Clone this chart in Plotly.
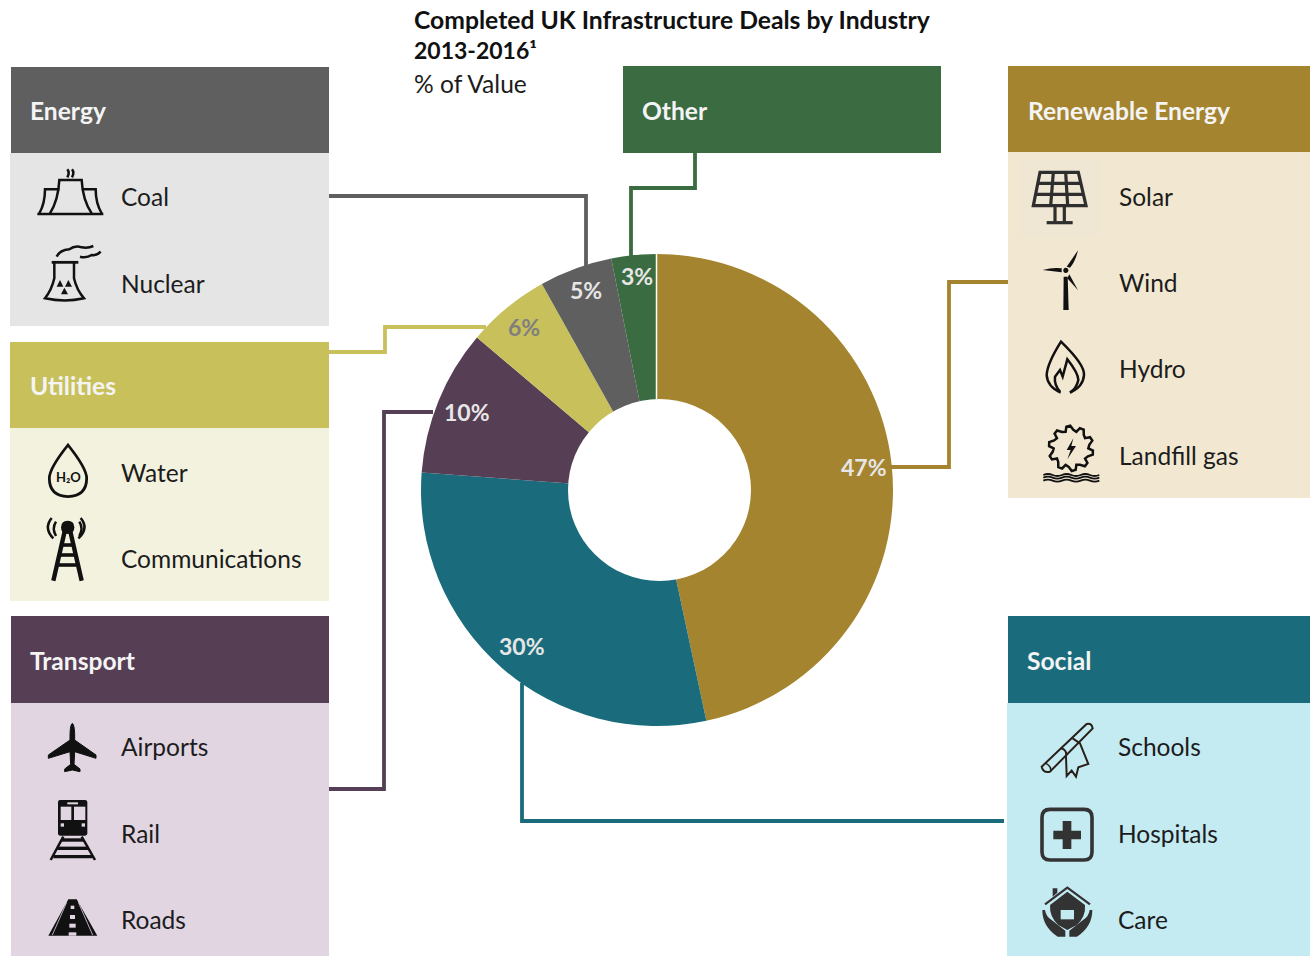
import re, math
import plotly.graph_objects as go

# ---------- data ----------
industries = ["Renewable Energy", "Social", "Transport", "Utilities", "Energy", "Other"]
shares = [46.6, 29.5, 10.0, 5.7, 5.0, 3.1]
share_labels = ["47%", "30%", "10%", "6%", "5%", "3%"]
slice_colors = ["#A4842E", "#1A6C7C", "#563E55", "#C8C05A", "#5F5F5F", "#3B6B41"]
label_colors = ["#E7E6E6", "#E7E6E6", "#E7E6E6", "#7F7F7F", "#E7E6E6", "#E7E6E6"]
label_xy = [(864, 467), (522, 646), (467, 412), (524, 327), (586, 290), (637, 276)]

title_lines = ["Completed UK Infrastructure Deals by Industry", "2013-2016¹"]
subtitle = "% of Value"

# name, header box, body box, header colour, body colour, header text xy
panels = [
    ("Energy", (11, 67, 329, 153), (10, 153, 329, 326), "#5F5F5F", "#E5E5E5", (28, 110)),
    ("Utilities", (10, 342, 329, 428), (10, 428, 329, 601), "#C8C05A", "#F3F2DE", (28, 385)),
    ("Transport", (11, 616, 329, 703), (11, 703, 329, 956), "#563E55", "#E1D5E2", (28, 660)),
    ("Other", (623, 66, 941, 153), None, "#3B6B41", None, (640, 110)),
    ("Renewable Energy", (1008, 66, 1310, 152), (1008, 152, 1310, 498), "#A4842E", "#F2E8D2", (1026, 110)),
    ("Social", (1008, 616, 1310, 703), (1007, 703, 1310, 956), "#1A6C7C", "#C4EBF2", (1025, 660)),
]
items = [
    ("Coal", 119, 196), ("Nuclear", 119, 283), ("Water", 119, 472), ("Communications", 119, 558),
    ("Airports", 119, 746), ("Rail", 119, 833), ("Roads", 119, 919),
    ("Solar", 1117, 196), ("Wind", 1117, 282), ("Hydro", 1117, 368), ("Landfill gas", 1117, 455),
    ("Schools", 1116, 746), ("Hospitals", 1116, 833), ("Care", 1116, 919),
]
connectors = [
    ("#5F5F5F", [(329, 196), (586, 196), (586, 266)]),
    ("#3B6B41", [(695, 153), (695, 188), (631, 188), (631, 257)]),
    ("#A4842E", [(890, 467), (949, 467), (949, 282), (1008, 282)]),
    ("#C8C05A", [(329, 352), (385, 352), (385, 327), (486, 327)]),
    ("#563E55", [(329, 789), (384, 789), (384, 412), (433, 412)]),
    ("#1A6C7C", [(522, 683), (522, 821), (1004, 821)]),
]

FONT = "Lato"
INK = "#1C1C1C"
ICON = "#111111"
shapes = []
annotations = []


def rect(x0, y0, x1, y1, color):
    shapes.append(dict(type="rect", xref="x", yref="y", x0=x0, y0=y0, x1=x1, y1=y1,
                       fillcolor=color, line=dict(width=0), layer="below"))


def tf(path, ox, oy):
    """Scale a path drawn in 3x crop coordinates back to page pixels."""
    out, i = [], 0
    for tok in re.findall(r"[MLQCZ]|-?\d+\.?\d*", path):
        if tok in "MLQCZ":
            out.append(tok)
        else:
            v = float(tok) / 3 + (ox if i % 2 == 0 else oy)
            out.append(f"{v:.2f}")
            i += 1
    return " ".join(out)


def icon(path, ox, oy, fill=None, stroke=None, w=2.5):
    shapes.append(dict(type="path", xref="x", yref="y", path=tf(path, ox, oy),
                       fillcolor=fill if fill else "rgba(0,0,0,0)",
                       line=dict(color=stroke if stroke else "rgba(0,0,0,0)", width=w if stroke else 0),
                       layer="above"))


def text(s, x, y, size, color=INK, anchor="left"):
    annotations.append(dict(text=s, x=x, y=y, xref="x", yref="y", showarrow=False,
                            xanchor=anchor, yanchor="middle", align="left",
                            font=dict(family=FONT, size=size, color=color)))


# ---------- panels ----------
for name, hd, body, hc, bc, (tx, ty) in panels:
    rect(*hd, hc)
    if body:
        rect(*body, bc)
    text(f"<b>{name}</b>", tx, ty, 24.6, "#F4F4F4")
rect(1020, 159, 1099, 237, "#EFE6D4")

for name, x, y in items:
    text(name, x, y, 24.5)

for color, pts in connectors:
    d = "M " + " L ".join(f"{a} {b}" for a, b in pts)
    shapes.append(dict(type="path", xref="x", yref="y", path=d, line=dict(color=color, width=3.8),
                       fillcolor="rgba(0,0,0,0)", layer="below"))

text(f"<b>{title_lines[0]}</b>", 412, 19, 24.7, "#111111")
text(f"<b>{title_lines[1]}</b>", 412, 50, 23, "#111111")
text(subtitle, 412, 83, 24.6)

# ---------- icons ----------
O = (10, 150)  # coal, nuclear
icon("M120 190 Q145 150 148 90 L215 90 Q218 150 245 190", *O, stroke=ICON)
icon("M82 192 L280 192", *O, stroke=ICON)
icon("M148 118 L105 118 Q105 160 88 190", *O, stroke=ICON)
icon("M218 118 L257 118 Q257 160 275 190", *O, stroke=ICON)
icon("M172 58 Q180 68 172 82", *O, stroke=ICON)
icon("M186 58 Q194 68 186 82", *O, stroke=ICON)
icon("M125 337 L205 337", *O, stroke=ICON, w=2.8)
icon("M133 338 L133 385 Q125 420 105 445 Q165 458 222 445 Q200 420 192 385 L192 338", *O, stroke=ICON)
icon("M140 320 Q150 300 178 298 Q195 285 215 292 Q235 295 250 288", *O, stroke=ICON)
icon("M210 320 Q230 325 245 315 Q260 318 272 305", *O, stroke=ICON)
icon("M140 410 L160 410 L150 390 Z", *O, fill=ICON)
icon("M165 410 L186 410 L175 390 Z", *O, fill=ICON)
icon("M153 433 L174 433 L163 413 Z", *O, fill=ICON)

O = (10, 430)  # water, communications
icon("M174 45 Q118 115 118 145 Q118 198 174 200 Q230 198 230 145 Q230 115 174 45 Z", *O, stroke=ICON, w=2.8)
text("<b>H₂O</b>", 68, 477, 13, ICON, "center")
icon("M165 300 L130 452", *O, stroke=ICON, w=4.4)
icon("M180 300 L215 452", *O, stroke=ICON, w=4.4)
icon("M152 345 L192 345", *O, stroke=ICON, w=3.6)
icon("M145 375 L198 375", *O, stroke=ICON, w=3.6)
icon("M138 405 L205 405", *O, stroke=ICON, w=3.6)
icon("M153 292 Q153 272 173 272 Q193 272 193 292 Q193 312 173 312 Q153 312 153 292 Z", *O, fill=ICON)
icon("M138 275 Q125 295 138 318", *O, stroke=ICON)
icon("M125 264 Q100 295 130 325", *O, stroke=ICON)
icon("M208 275 Q221 295 208 318", *O, stroke=ICON)
icon("M212 264 Q238 295 205 325", *O, stroke=ICON)

O = (10, 705)  # airports, rail, roads
PANEL = "#E1D5E2"
icon("M187 55 Q195 60 194 105 L258 150 L258 160 L194 140 L192 178 L210 192 L210 200 L187 195 "
     "L164 200 L164 192 L182 178 L180 140 L115 160 L115 150 L180 105 Q179 60 187 55 Z", *O, fill=ICON, stroke=ICON, w=1)
icon("M150 285 L225 285 Q232 285 232 292 L232 385 Q232 392 225 392 L150 392 Q144 392 144 385 "
     "L144 292 Q144 285 150 285 Z", *O, fill=ICON)
icon("M152 305 L184 305 L184 345 L152 345 Z", *O, fill=PANEL)
icon("M192 305 L226 305 L226 345 L192 345 Z", *O, fill=PANEL)
icon("M172 292 L204 292 L204 298 L172 298 Z", *O, fill=PANEL)
icon("M152 355 L162 355 L162 365 L152 365 Z", *O, fill=PANEL)
icon("M215 355 L225 355 L225 365 L215 365 Z", *O, fill=PANEL)
icon("M160 395 L122 465", *O, stroke=ICON)
icon("M215 395 L255 465", *O, stroke=ICON)
icon("M155 405 L222 405", *O, stroke=ICON, w=3.4)
icon("M142 430 L236 430", *O, stroke=ICON, w=3.4)
icon("M130 455 L248 455", *O, stroke=ICON, w=3.4)
icon("M175 583 L200 583 L262 692 L115 692 Z", *O, fill=ICON)
WHITE = PANEL
icon("M182 602 L193 602 L193 612 L182 612 Z", *O, fill=WHITE)
icon("M180 630 L195 630 L195 642 L180 642 Z", *O, fill=WHITE)
icon("M178 656 L197 656 L197 668 L178 668 Z", *O, fill=WHITE)
icon("M176 682 L199 682 L199 692 L176 692 Z", *O, fill=WHITE)
icon("M170 592 L127 690", *O, stroke=WHITE, w=0.8)
icon("M205 592 L248 690", *O, stroke=WHITE, w=0.8)

O = (1010, 155)  # solar, wind
DK = "#2E2E2E"
icon("M90 52 L205 52 L228 152 L70 152 Z", *O, stroke=DK, w=3.2)
icon("M130 52 L122 152", *O, stroke=DK, w=3.2)
icon("M167 52 L173 152", *O, stroke=DK, w=3.2)
icon("M83 85 L212 85", *O, stroke=DK, w=3.2)
icon("M77 118 L220 118", *O, stroke=DK, w=3.2)
icon("M135 152 L135 200", *O, stroke=DK, w=3.2)
icon("M163 152 L163 200", *O, stroke=DK, w=3.2)
icon("M110 203 L188 203", *O, stroke=DK, w=3.2)
icon("M161 365 L173 365 L176 465 L160 465 Z", *O, fill=ICON)
icon("M155 352 L98 345 Q130 336 155 340 Z", *O, fill=ICON)
icon("M170 335 L204 286 Q196 320 180 338 Z", *O, fill=ICON)
icon("M178 358 L204 406 L172 370 Z", *O, fill=ICON)
icon("M160 346 Q160 338 167 338 Q175 338 175 346 Q175 354 167 354 Q160 354 160 346 Z", *O, fill=ICON)

O = (1010, 330)  # hydro, landfill gas
icon("M152 188 Q112 170 110 135 Q112 100 153 35 Q225 105 222 135 Q220 170 180 188", *O, stroke=ICON)
icon("M150 185 Q132 165 135 140 L150 120 L158 140 L172 88 Q205 130 205 150 Q200 175 180 188", *O, stroke=ICON)
# gear outline: ten hooked teeth around the hub
cx, cy, pts = 183, 355, []
for k in range(10):
    a = 2 * math.pi * k / 10
    for r, da in ((52, 0.0), (66, 0.10), (68, 0.28), (56, 0.44)):
        pts.append((cx + r * math.cos(a + da), cy + r * math.sin(a + da)))
gear = "M " + " L ".join(f"{p:.1f} {q:.1f}" for p, q in pts) + " Z"
icon(gear, *O, stroke=ICON)
icon("M190 325 L170 360 L182 360 L172 388 L198 348 L184 348 Z", *O, fill=ICON)
for yy in (435, 443, 452):
    icon(f"M100 {yy} Q114 {yy-6} 128 {yy} Q142 {yy+6} 156 {yy} Q170 {yy-6} 184 {yy} "
         f"Q198 {yy+6} 212 {yy} Q226 {yy-6} 240 {yy} Q254 {yy+6} 268 {yy}", *O, stroke=ICON, w=1.8)

O = (1010, 710)  # schools, hospitals, care
icon("M95 170 L230 42 Q245 38 248 55 L120 185 Q100 190 95 170 Z", *O, stroke="#2A2018", w=2)
icon("M152 115 Q172 118 168 140 L170 198 L185 182 L198 200 L205 172 L235 162 L210 100 L188 85", *O, stroke="#2A2018", w=2)
icon("M108 160 Q125 170 122 184", *O, stroke="#2A2018", w=1.6)
icon("M120 298 L222 298 Q246 298 246 322 L246 426 Q246 450 222 450 L120 450 Q96 450 96 426 L96 322 Q96 298 120 298 Z",
     *O, stroke="#333333", w=3.6)
icon("M158 333 L184 333 L184 362 L213 362 L213 388 L184 388 L184 417 L158 417 L158 388 L130 388 L130 362 L158 362 Z",
     *O, fill="#333333")
icon("M105 583 L172 533 L240 583", *O, stroke="#333333", w=2.2)
icon("M128 535 L142 535 L142 548 L128 560 Z", *O, fill="#333333")
icon("M172 545 L225 585 Q228 620 200 645 L172 660 L145 645 Q118 620 120 585 Z", *O, fill="#333333")
icon("M152 600 L192 600 L192 628 L152 628 Z", *O, fill="#C4EBF2")
icon("M97 600 L105 600 Q108 620 125 630 L166 662 L166 680 L143 680 Q97 650 97 600 Z", *O, fill="#333333")
icon("M247 600 L239 600 Q236 620 219 630 L178 662 L178 680 L201 680 Q247 650 247 600 Z", *O, fill="#333333")

# white seam at the top of the ring, and the doughnut hole (it sits slightly right of the ring centre)
shapes.append(dict(type="line", xref="x", yref="y", x0=656.5, x1=656.5, y0=254, y1=399,
                   line=dict(color="#FFFFFF", width=1.5), layer="above"))
shapes.append(dict(type="circle", xref="x", yref="y", x0=568, x1=751, y0=399, y1=581,
                   fillcolor="#FFFFFF", line=dict(width=0), layer="above"))

# ---------- percentage labels ----------
for lab, col, (lx, ly) in zip(share_labels, label_colors, label_xy):
    annotations.append(dict(text=f"<b>{lab}</b>", x=lx, y=ly, xref="x", yref="y", showarrow=False,
                            xanchor="center", yanchor="middle",
                            font=dict(family=FONT, size=23, color=col)))

# ---------- figure ----------
W, H = 1310, 956
cx_px, cy_px, R = 657, 490, 236
fig = go.Figure(go.Pie(
    labels=industries, values=shares, sort=False, direction="clockwise", rotation=0,
    hole=84 / 236, textinfo="none", showlegend=False,
    marker=dict(colors=slice_colors, line=dict(width=0)),
    domain=dict(x=[(cx_px - R) / W, (cx_px + R) / W], y=[1 - (cy_px + R) / H, 1 - (cy_px - R) / H]),
))
fig.update_layout(
    width=W, height=H, margin=dict(l=0, r=0, t=0, b=0), autosize=False,
    paper_bgcolor="#FFFFFF", plot_bgcolor="rgba(0,0,0,0)", showlegend=False,
    xaxis=dict(range=[0, W], visible=False, fixedrange=True, domain=[0, 1]),
    yaxis=dict(range=[H, 0], visible=False, fixedrange=True, domain=[0, 1]),
    shapes=shapes, annotations=annotations,
)
fig.add_trace(go.Scatter(x=[0, W], y=[0, H], mode="markers", marker=dict(opacity=0), hoverinfo="skip", showlegend=False))
fig.write_html("out.html", config={"displayModeBar": False},
               post_script="document.body.style.margin='0';document.body.style.overflow='hidden';")
